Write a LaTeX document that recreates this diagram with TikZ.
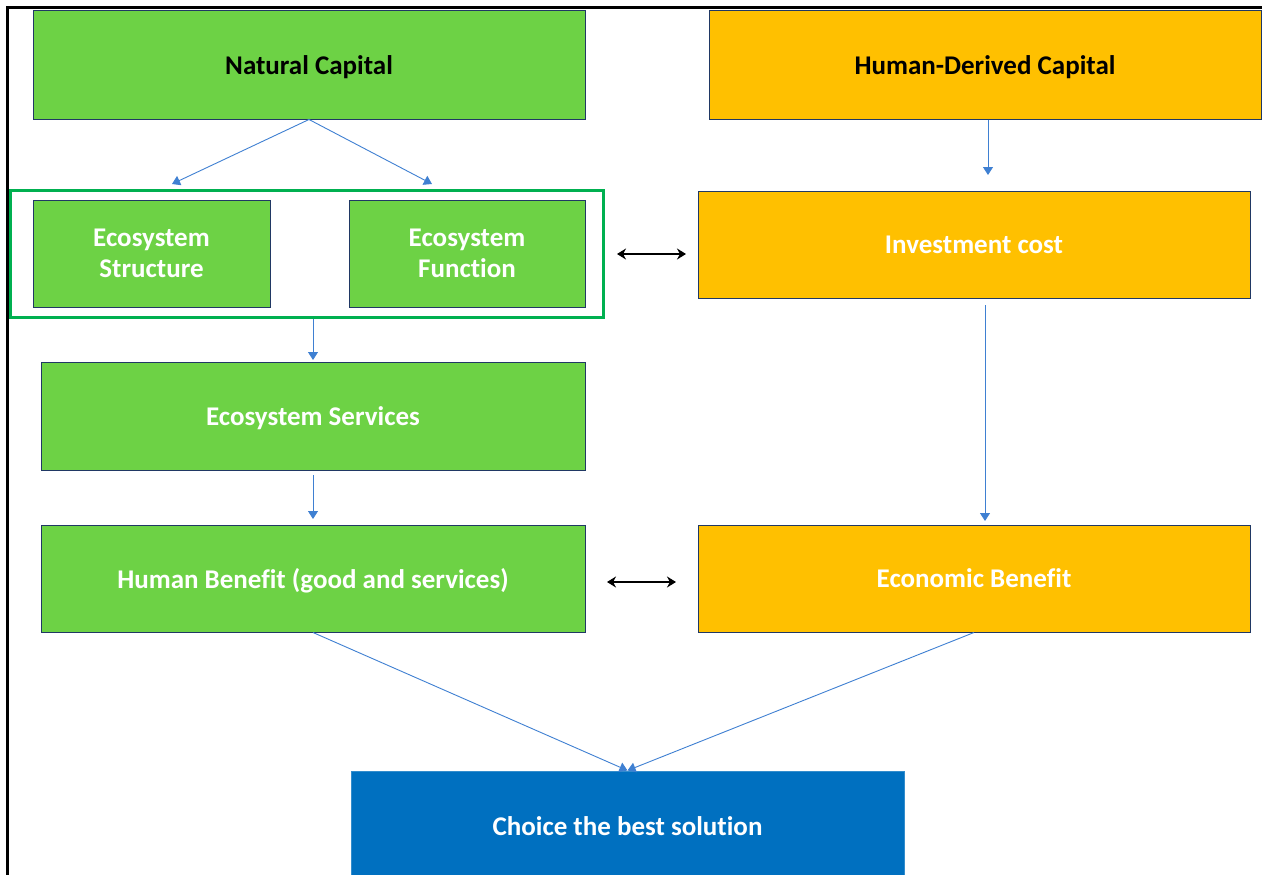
\documentclass[tikz,border=0pt]{standalone}
\usepackage{fontspec}
\setmainfont{Carlito}[Ligatures=NoCommon]
\usetikzlibrary{arrows.meta}
\definecolor{leaf}{HTML}{6DD245}
\definecolor{amber}{HTML}{FFC000}
\definecolor{deepblue}{HTML}{0070C0}
\definecolor{outline}{HTML}{203864}
\definecolor{framegreen}{HTML}{00B050}
\definecolor{flow}{HTML}{3F80D2}
\tikzset{
  labelfont/.style={font=\fontsize{27}{31}\selectfont\bfseries, text depth=0pt},
  box/.style={draw=outline, line width=1pt, minimum width=552pt, minimum height=108pt,
    align=center, labelfont, inner sep=0pt},
  greenbox/.style={box, fill=leaf, text=white},
  amberbox/.style={box, fill=amber, text=white},
  flowarrow/.style={draw=flow, line width=0.9pt, -{Triangle[width=10pt,length=8pt]}},
  twoway/.style={draw=black, line width=2.2pt, {Stealth[length=9pt,width=11pt]}-{Stealth[length=9pt,width=11pt]}},
}
\begin{document}
\begin{tikzpicture}[x=1pt,y=-1pt]
\useasboundingbox (0,0) rectangle (1262,875);
\clip (0,0) rectangle (1262,875);
\fill[white] (0,0) rectangle (1262,875);
% outer frame
\draw[line width=3pt] (7,880) -- (7,8) -- (1270,8);

% capital sources
\node[greenbox, text=black] (nc) at (309,65) {Natural Capital};
\node[amberbox, text=black] (hc) at (985,65) {Human-Derived Capital};

% ecosystem group
\node[draw=framegreen, line width=3pt, minimum width=593pt, minimum height=127pt, inner sep=0pt] (grp) at (306.5,253.5) {};
\node[greenbox, minimum width=237pt, minimum height=107pt] (es) at (151.5,253.5) {Ecosystem\\Structure};
\node[greenbox, minimum width=236pt, minimum height=107pt] (ef) at (467,253.5) {Ecosystem\\Function};
\node[amberbox, minimum width=552pt, minimum height=107pt] (ic) at (974,244.5) {Investment cost};

\node[greenbox, minimum width=544pt, minimum height=108pt] (sv) at (313,416) {Ecosystem Services};
\node[greenbox, minimum width=544pt, minimum height=107pt] (hb) at (313,578.5) {Human Benefit (good and services)};
\node[amberbox, minimum width=552pt, minimum height=107pt] (eb) at (974,578.5) {Economic Benefit};

\node[draw=deepblue!80!white, fill=deepblue, text=white, line width=1pt, minimum width=553pt, minimum height=110pt,
  labelfont, inner sep=0pt] (ch) at (627.5,826) {Choice the best solution};

% free arrow ends
\coordinate (ncL) at (172,184);
\coordinate (ncR) at (432,184);
\coordinate (hcE) at (988,175);
\coordinate (grpE) at (313,360);
\coordinate (icS) at (985,305);
\coordinate (icE) at (985,521);
\coordinate (svS) at (313,475);
\coordinate (svE) at (313,519);
\coordinate (l1) at (617,254);
\coordinate (r1) at (686,254);
\coordinate (l2) at (607,582);
\coordinate (r2) at (676,582);

% connectors
\draw[flowarrow] (nc.south) -- (ncL);
\draw[flowarrow] (nc.south) -- (ncR);
\draw[flowarrow] (hc.south -| hcE) -- (hcE);
\draw[flowarrow] (grp.south -| grpE) -- (grpE);
\draw[flowarrow] (icS) -- (icE);
\draw[flowarrow] (svS) -- (svE);
\draw[flowarrow] (hb.south) -- (ch.north);
\draw[flowarrow] (eb.south) -- (ch.north);
\draw[twoway] (l1) -- (r1);
\draw[twoway] (l2) -- (r2);
\end{tikzpicture}
\end{document}
